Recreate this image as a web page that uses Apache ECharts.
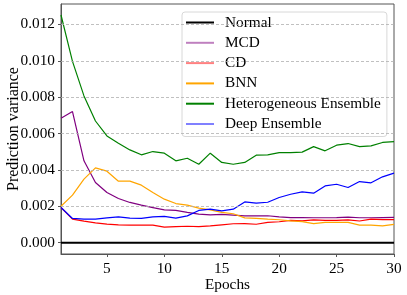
<!DOCTYPE html>
<html><head><meta charset="utf-8">
<script src="https://cdn.jsdelivr.net/npm/echarts@6/dist/echarts.min.js"></script>
<style>html,body{margin:0;padding:0;background:#fff}#c{width:407px;height:295px}</style>
</head><body><div id="c"></div>
<script>
const epochs = Array.from({length:30},(_,i)=>i+1);
const normal = Array(30).fill(0);
const mcd = [0.00684,0.00721,0.00450,0.00331,0.00276,0.00243,0.00221,0.00206,0.00193,0.00180,0.00177,0.00166,0.00157,0.00153,0.00155,0.00151,0.00147,0.00147,0.00148,0.00142,0.00138,0.00138,0.00137,0.00137,0.00138,0.00140,0.00137,0.00137,0.00138,0.00139];
const cd = [0.00193,0.00129,0.00118,0.00109,0.00102,0.00098,0.00096,0.00096,0.00096,0.00085,0.00088,0.00090,0.00088,0.00092,0.00098,0.00104,0.00105,0.00101,0.00111,0.00115,0.00122,0.00120,0.00125,0.00122,0.00122,0.00125,0.00119,0.00129,0.00127,0.00127];
const bnn = [0.00200,0.00261,0.00349,0.00411,0.00393,0.00338,0.00338,0.00316,0.00276,0.00239,0.00215,0.00206,0.00190,0.00180,0.00166,0.00159,0.00136,0.00133,0.00129,0.00126,0.00120,0.00116,0.00105,0.00111,0.00112,0.00111,0.00096,0.00096,0.00092,0.00100];
const hetero = [0.01252,0.00997,0.00807,0.00669,0.00587,0.00547,0.00510,0.00483,0.00501,0.00492,0.00450,0.00464,0.00431,0.00492,0.00441,0.00431,0.00441,0.00481,0.00483,0.00495,0.00495,0.00498,0.00528,0.00505,0.00536,0.00545,0.00528,0.00532,0.00551,0.00556];
const deep = [0.00193,0.00133,0.00129,0.00129,0.00136,0.00142,0.00135,0.00133,0.00142,0.00144,0.00135,0.00147,0.00177,0.00184,0.00175,0.00184,0.00224,0.00217,0.00222,0.00248,0.00266,0.00279,0.00272,0.00312,0.00321,0.00303,0.00336,0.00329,0.00362,0.00382];
const yTicks = [0,0.002,0.004,0.006,0.008,0.010,0.012];
const xTicks = [5,10,15,20,25,30];
const names = ['Normal','MCD','CD','BNN','Heterogeneous Ensemble','Deep Ensemble'];
const colors = ['#000000','#800080','#ff0000','#ffa500','#008000','#0000ff'];
const legendColors = ['#000000','#bf80bf','#ff8080','#ffa500','#008000','#8080ff'];
const values = [normal,mcd,cd,bnn,hetero,deep];

const font = 'Liberation Serif';
const fs = 15.3;
const chart = echarts.init(document.getElementById('c'),null,{renderer:'canvas'});
const series = values.map((v,i)=>({
  name:names[i], type:'line', symbol:'none', z: 3,
  data: epochs.map((e,j)=>[e,v[j]]),
  lineStyle:{color:colors[i], width: i===0?2:1.2},
  itemStyle:{color:colors[i]}
}));
series.push({
  name:'_grid', type:'line', z:1, silent:true, symbol:'none',
  data: epochs.map((e,j)=>[e,normal[j]]),
  lineStyle:{opacity:0},
  markLine:{silent:true, symbol:'none', label:{show:false},
    lineStyle:{color:'#b0b0b0', type:[3,2], width:0.8},
    data: yTicks.slice(1).map(y=>[{coord:[1,y]},{coord:[30,y]}])}
});
chart.setOption({
  animation:false,
  textStyle:{fontFamily:font},
  grid:{left:61, right:13, top:4, bottom:41, containLabel:false, outerBoundsMode:'none',
    show:true, borderColor:'#555', borderWidth:1, backgroundColor:'transparent'},
  xAxis:{type:'value', min:1, max:30,
    name:'Epochs', nameLocation:'middle', nameGap:23, nameMoveOverlap:false,
    nameTextStyle:{fontFamily:font, fontSize:fs, color:'#000'},
    axisLine:{show:true, onZero:false, lineStyle:{color:'#555'}},
    axisTick:{show:true, length:3, customValues:xTicks, lineStyle:{color:'#555'}},
    axisLabel:{customValues:xTicks, fontFamily:font, fontSize:fs, color:'#000', margin:7},
    splitLine:{show:false}},
  yAxis:{type:'value', min:-0.000625, max:0.013125,
    name:'Prediction variance', nameLocation:'middle', nameGap:39, nameRotate:90, nameMoveOverlap:false,
    nameTextStyle:{fontFamily:font, fontSize:16, color:'#000'},
    axisLine:{show:true, lineStyle:{color:'#555'}},
    axisTick:{show:true, length:3, customValues:yTicks, lineStyle:{color:'#555'}},
    axisLabel:{customValues:yTicks, fontFamily:font, fontSize:fs, color:'#000', margin:6,
      formatter:v=>v.toFixed(3)},
    splitLine:{show:false}},
  legend:{orient:'vertical', left:182, top:12, padding:[3,6,5,4],
    backgroundColor:'#fff', borderColor:'#d8d8d8', borderWidth:1, borderRadius:3,
    itemWidth:28, itemHeight:2, itemGap:5.3, icon:'rect',
    textStyle:{fontFamily:font, fontSize:fs, color:'#000', lineHeight:15, padding:[0,0,0,6]},
    data: names.map((n,i)=>({name:n, itemStyle:{color:legendColors[i]}}))},
  series
});
</script></body></html>
